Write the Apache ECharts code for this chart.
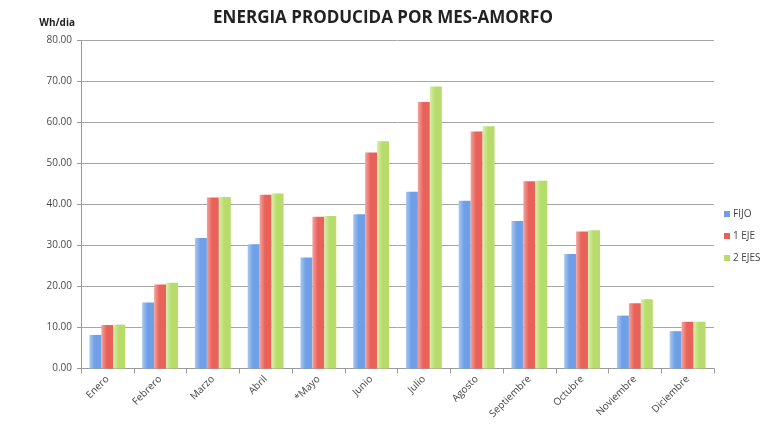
<!DOCTYPE html>
<html>
<head>
<meta charset="utf-8">
<script src="https://cdn.jsdelivr.net/npm/echarts@6/dist/echarts.min.js"></script>
<style>
  html, body { margin: 0; padding: 0; background: #ffffff; }
  #chart { width: 766px; height: 428px; }
</style>
</head>
<body>
<div id="chart"></div>
<script>
// Monthly energy output (Wh/day) for an amorphous panel, three mounting options
const months = ['Enero', 'Febrero', 'Marzo', 'Abril', '*Mayo', 'Junio', 'Julio',
                'Agosto', 'Septiembre', 'Octubre', 'Noviembre', 'Diciembre'];
const fijo   = [8.2, 16.1, 31.8, 30.3, 27.1, 37.6, 43.1, 40.9, 36.0, 27.9, 12.9, 9.1];
const unEje  = [10.6, 20.5, 41.7, 42.4, 37.0, 52.7, 65.0, 57.8, 45.7, 33.4, 15.9, 11.4];
const dosEjes = [10.7, 20.9, 41.8, 42.7, 37.2, 55.4, 68.8, 59.1, 45.8, 33.7, 16.9, 11.4];
const seriesNames = ['FIJO', '1 EJE', '2 EJES'];
const yTicks = { min: 0, max: 80, step: 10 };

function barFill(edge, mid) {
  return new echarts.graphic.LinearGradient(0, 0, 1, 0, [
    { offset: 0, color: edge },
    { offset: 0.45, color: mid },
    { offset: 1, color: mid }
  ]);
}

const palette = [
  { edge: '#a9c8f2', mid: '#6f9fe6', legend: '#6f9fe6' },
  { edge: '#f3a39c', mid: '#e8625a', legend: '#e8625a' },
  { edge: '#d7eea8', mid: '#b7dc6c', legend: '#b7dc6c' }
];

const chart = echarts.init(document.getElementById('chart'), null, { renderer: 'canvas' });
const font = 'Open Sans, Lato, DejaVu Sans, sans-serif';

chart.setOption({
  backgroundColor: '#ffffff',
  animation: false,
  textStyle: { fontFamily: font },
  title: {
    text: 'ENERGIA PRODUCIDA POR MES-AMORFO',
    left: 'center',
    top: 5,
    textStyle: { fontFamily: font, fontSize: 17, fontWeight: 'bold', color: '#222222' }
  },
  legend: {
    orient: 'vertical',
    left: 719,
    top: 204,
    itemWidth: 6,
    itemHeight: 6,
    itemGap: 12,
    icon: 'rect',
    textStyle: { fontSize: 10, color: '#444444', padding: [0, 0, 0, -2] },
    data: seriesNames.map((n, i) => ({ name: n, itemStyle: { color: palette[i].legend } }))
  },
  grid: { left: 81, right: 52, top: 40.5, bottom: 59.5 },
  xAxis: {
    type: 'category',
    data: months,
    axisLine: { lineStyle: { color: '#9a9a9a' } },
    axisTick: { show: true, alignWithLabel: false, length: 5, lineStyle: { color: '#9a9a9a' } },
    axisLabel: { rotate: 45, fontSize: 10, color: '#444444', margin: 9 }
  },
  yAxis: {
    type: 'value',
    min: yTicks.min,
    max: yTicks.max,
    interval: yTicks.step,
    name: 'Wh/dia',
    nameLocation: 'end',
    nameGap: 12,
    nameTextStyle: { align: 'right', fontSize: 10, fontWeight: 'bold', color: '#222222', padding: [0, 6, 0, 0] },
    axisLine: { show: true, lineStyle: { color: '#9a9a9a' } },
    axisTick: { show: true, length: 4, lineStyle: { color: '#9a9a9a' } },
    axisLabel: { fontSize: 10, color: '#4a4a4a', margin: 9, formatter: v => v.toFixed(2) },
    splitLine: { lineStyle: { color: '#a6a6a6', width: 1 } }
  },
  series: [fijo, unEje, dosEjes].map((vals, i) => ({
    name: seriesNames[i],
    type: 'bar',
    data: vals,
    barGap: '0%',
    barCategoryGap: '32%',
    itemStyle: { color: barFill(palette[i].edge, palette[i].mid) }
  }))
});
</script>
</body>
</html>
